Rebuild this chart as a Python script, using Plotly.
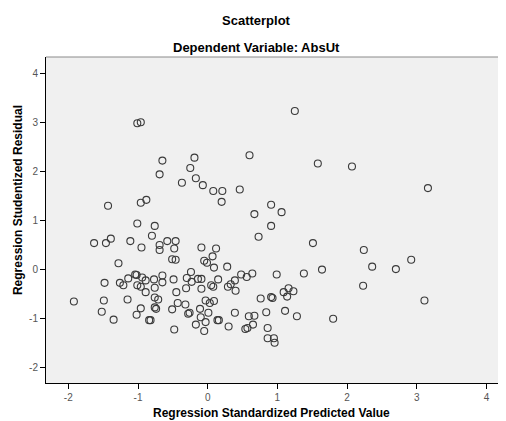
import plotly.graph_objects as go

predicted = [
    -1.01, -0.96, -0.65, -0.19, -0.25, -0.69, -0.17, -0.37, -0.07, -0.88, -0.96, -1.43, -1.01, -0.76,
    1.25, 0.60, 1.58, 2.07, 0.08, 0.21, 0.20, 0.46, 0.91, 0.67, 1.06, 0.91,
    3.16, 2.24, 2.36, 2.70, 2.92, 2.23, 3.11,
    0.73, 1.51, 1.64, 1.38, 0.99, 1.80, -0.09, 0.12, 0.07, -0.05, -0.01, 0.09, 0.28,
    -0.09, -0.09, 0.05, 0.08, 0.15, 0.29, 0.33, 0.39, 0.40, 0.48, 0.56, 0.64, 0.76, 0.91, 0.93,
    1.09, 1.16, 1.23, 1.14, -0.03, 0.03, 0.09, -0.11, 0.01, -0.10, -0.03, -0.05, 0.14, 0.16,
    0.30, 0.39, 0.59, 0.67, 0.65, 0.54, 0.57, 0.84, 1.11, 1.28, 0.86, 0.86, 0.95, 0.96,
    -0.80, -1.63, -1.46, -1.39, -1.11, -0.95, -0.69, -0.69, -0.58, -0.46, -0.48, -1.28, -0.51, -0.46,
    -1.48, -1.26, -1.21, -1.14, -1.04, -1.02, -0.94, -0.89, -1.01, -0.96, -0.89, -0.77, -0.76,
    -0.65, -0.65, -0.49, -0.45, -0.30, -0.24, -0.23, -0.14, -0.31, -0.76, -0.71, -0.76, -0.74,
    -1.15, -1.49, -1.92, -1.52, -1.35, -0.96, -1.02, -0.84, -0.82, -0.51, -0.43, -0.32, -0.28,
    -0.26, -0.17, -0.48,
]
residual = [
    2.98, 3.00, 2.22, 2.28, 2.07, 1.94, 1.86, 1.77, 1.72, 1.42, 1.36, 1.30, 0.94, 0.89,
    3.23, 2.33, 2.16, 2.10, 1.60, 1.60, 1.38, 1.63, 1.32, 1.13, 1.17, 0.89,
    1.66, 0.40, 0.06, 0.01, 0.20, -0.33, -0.63,
    0.67, 0.54, 0.00, -0.08, -0.10, -1.00, 0.45, 0.43, 0.27, 0.18, 0.14, 0.04, 0.06,
    -0.19, -0.39, -0.32, -0.35, -0.20, -0.35, -0.30, -0.22, -0.43, -0.10, -0.15, -0.08, -0.59, -0.56, -0.58,
    -0.46, -0.38, -0.44, -0.55, -0.63, -0.68, -0.64, -0.80, -0.88, -0.97, -1.07, -1.25, -1.03, -1.03,
    -1.16, -0.88, -0.95, -0.94, -1.12, -1.21, -1.19, -0.87, -0.84, -0.95, -1.19, -1.40, -1.40, -1.49,
    0.69, 0.54, 0.54, 0.63, 0.58, 0.45, 0.50, 0.40, 0.58, 0.58, 0.43, 0.13, 0.21, 0.20,
    -0.27, -0.27, -0.32, -0.18, -0.10, -0.11, -0.16, -0.22, -0.32, -0.35, -0.46, -0.20, -0.37,
    -0.12, -0.26, -0.20, -0.46, -0.17, -0.05, -0.25, -0.19, -0.38, -0.57, -0.61, -0.77, -0.80,
    -0.61, -0.63, -0.65, -0.86, -1.02, -0.79, -0.92, -1.03, -1.03, -0.81, -0.68, -0.71, -0.90,
    -0.88, -1.12, -1.22,
]

tick_vals = [-2, -1, 0, 1, 2, 3, 4]
tick_text = ["-2", "-1", "0", "1", "2", "3", "4"]

title_text = "Scatterplot"
subtitle_text = "Dependent Variable: AbsUt"
x_title = "Regression Standardized Predicted Value"
y_title = "Regression Studentized Residual"

FONT = "Liberation Sans, Arial, sans-serif"

fig = go.Figure()
fig.add_trace(go.Scatter(
    x=predicted, y=residual, mode="markers",
    marker=dict(symbol="circle-open", size=7, color="#3a3a3a", line=dict(width=1.1, color="#3a3a3a")),
    hoverinfo="x+y", showlegend=False,
))

axis_common = dict(
    showgrid=False, zeroline=False, showline=True, linecolor="#000000", linewidth=1,
    ticks="outside", ticklen=5, tickcolor="#000000", tickwidth=1,
    tickfont=dict(family=FONT, size=10, color="#555555"),
    tickvals=tick_vals, ticktext=tick_text, fixedrange=True,
)

# page body has an 8px default margin, so the figure is sized 8px smaller
fig.update_layout(
    width=498, height=413,
    margin=dict(l=38, r=0, t=49, b=38),
    paper_bgcolor="#ffffff", plot_bgcolor="#f0f0f0",
    font=dict(family=FONT),
    xaxis=dict(range=[-2.32, 4.28], **axis_common),
    yaxis=dict(range=[-2.31, 4.33], **axis_common),
    shapes=[dict(type="line", xref="paper", yref="paper", x0=0, x1=1, y0=1, y1=1,
                 line=dict(color="#8a8a8a", width=1))],
    annotations=[
        dict(text="<b>" + title_text + "</b>", xref="paper", yref="paper", x=0.457, y=1.113,
             showarrow=False, xanchor="center", yanchor="middle",
             font=dict(family=FONT, size=13, color="#000000")),
        dict(text="<b>" + subtitle_text + "</b>", xref="paper", yref="paper", x=0.457, y=1.03,
             showarrow=False, xanchor="center", yanchor="middle",
             font=dict(family=FONT, size=13, color="#000000")),
        dict(text="<b>" + x_title + "</b>", xref="paper", yref="paper", x=0.49, y=-0.092,
             showarrow=False, xanchor="center", yanchor="middle",
             font=dict(family=FONT, size=12, color="#000000")),
        dict(text="<b>" + y_title + "</b>", xref="paper", yref="paper", x=-0.061, y=0.561,
             showarrow=False, xanchor="center", yanchor="middle", textangle=-90,
             font=dict(family=FONT, size=12, color="#000000")),
    ],
)

fig.write_html("out.html")
